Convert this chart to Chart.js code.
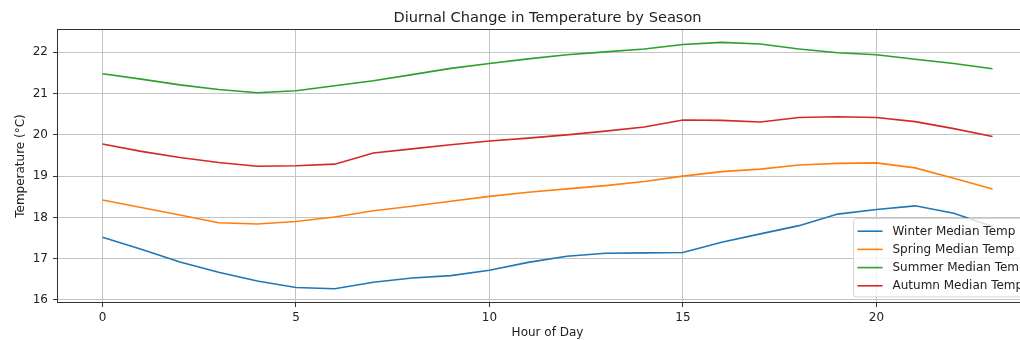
<!DOCTYPE html>
<html>
<head>
<meta charset="utf-8">
<script src="https://cdn.jsdelivr.net/npm/chart.js@4/dist/chart.umd.min.js"></script>
<style>
  html, body { margin: 0; padding: 0; background: #fff; overflow: hidden; width: 1020px; height: 340px; }
  #wrap { position: absolute; left: 0; top: 0; width: 1045px; height: 340px; }
</style>
</head>
<body>
<div id="wrap"><canvas id="c" width="1045" height="340"></canvas></div>
<script>
// Hour of day (0-23)
const hours = [0, 1, 2, 3, 4, 5, 6, 7, 8, 9, 10, 11, 12, 13, 14, 15, 16, 17, 18, 19, 20, 21, 22, 23];

// Median temperature (°C) per hour, by season
const winterTemp = [17.52, 17.23, 16.92, 16.67, 16.46, 16.30, 16.27, 16.43, 16.53, 16.59, 16.72, 16.91,
                    17.06, 17.13, 17.14, 17.15, 17.40, 17.60, 17.80, 18.08, 18.19, 18.28, 18.10, 17.78];
const springTemp = [18.42, 18.24, 18.06, 17.87, 17.84, 17.90, 18.01, 18.16, 18.27, 18.39, 18.51, 18.61,
                    18.69, 18.77, 18.87, 19.00, 19.11, 19.17, 19.27, 19.31, 19.32, 19.20, 18.95, 18.69];
const summerTemp = [21.48, 21.35, 21.21, 21.10, 21.02, 21.07, 21.19, 21.31, 21.46, 21.61, 21.73, 21.84,
                    21.94, 22.01, 22.08, 22.19, 22.24, 22.20, 22.08, 21.99, 21.94, 21.83, 21.73, 21.60];
const autumnTemp = [19.78, 19.60, 19.45, 19.33, 19.24, 19.25, 19.29, 19.56, 19.66, 19.76, 19.85, 19.92,
                    20.00, 20.09, 20.19, 20.36, 20.35, 20.31, 20.42, 20.44, 20.42, 20.32, 20.15, 19.96];

const seriesLabels = ['Winter Median Temp', 'Spring Median Temp', 'Summer Median Temp', 'Autumn Median Temp'];
const seriesValues = [winterTemp, springTemp, summerTemp, autumnTemp];
const seriesColors = ['#1f77b4', '#ff7f0e', '#2ca02c', '#d62728'];

// Axis tick labels
const xTicks = [0, 5, 10, 15, 20];
const yTicks = [16, 17, 18, 19, 20, 21, 22];

const FONT = '"DejaVu Sans", "Liberation Sans", sans-serif';
const TEXT = '#222';

// Axes frame (all four spines) drawn over the data lines
const frame = {
  id: 'frame',
  afterDatasetsDraw(chart) {
    const { ctx, chartArea: a } = chart;
    ctx.save();
    ctx.strokeStyle = '#333';
    ctx.lineWidth = 1;
    ctx.strokeRect(Math.round(a.left) - 0.5, Math.round(a.top) - 0.5,
                   Math.round(a.right - a.left) + 1, Math.round(a.bottom - a.top) + 1);
    ctx.restore();
  }
};

// Legend box placed inside the plot area, lower right
const insetLegend = {
  id: 'insetLegend',
  afterDraw(chart) {
    const { ctx, chartArea: a } = chart;
    const items = chart.data.datasets;
    ctx.save();
    ctx.font = '12px ' + FONT;
    const rowH = 18.2;
    const textW = Math.max(...items.map(d => ctx.measureText(d.label).width));
    const left = Math.round(a.right - 184) + 0.5;
    const top = Math.round(a.top + 188) + 0.5;
    const w = 4 + 25 + 10 + textW + 6;
    const h = 78.4;
    const r = 3;
    ctx.beginPath();
    ctx.moveTo(left + r, top);
    ctx.lineTo(left + w - r, top);
    ctx.quadraticCurveTo(left + w, top, left + w, top + r);
    ctx.lineTo(left + w, top + h - r);
    ctx.quadraticCurveTo(left + w, top + h, left + w - r, top + h);
    ctx.lineTo(left + r, top + h);
    ctx.quadraticCurveTo(left, top + h, left, top + h - r);
    ctx.lineTo(left, top + r);
    ctx.quadraticCurveTo(left, top, left + r, top);
    ctx.closePath();
    ctx.fillStyle = 'rgba(255,255,255,0.8)';
    ctx.fill();
    ctx.strokeStyle = '#d4d4d4';
    ctx.lineWidth = 1;
    ctx.stroke();
    items.forEach((d, i) => {
      const y = top + 12.7 + i * rowH;
      ctx.beginPath();
      ctx.strokeStyle = d.borderColor;
      ctx.lineWidth = 1.6;
      ctx.moveTo(left + 4, y);
      ctx.lineTo(left + 29, y);
      ctx.stroke();
      ctx.fillStyle = TEXT;
      ctx.textBaseline = 'middle';
      ctx.textAlign = 'left';
      ctx.fillText(d.label, left + 39, y + 0.5);
    });
    ctx.restore();
  }
};

const datasets = seriesLabels.map((label, i) => ({
  label,
  data: hours.map((h, j) => ({ x: h, y: seriesValues[i][j] })),
  borderColor: seriesColors[i],
  backgroundColor: seriesColors[i],
  borderWidth: 1.6,
  pointRadius: 0,
  tension: 0,
  fill: false
}));

new Chart(document.getElementById('c'), {
  type: 'line',
  data: { datasets },
  plugins: [frame, insetLegend],
  options: {
    responsive: false,
    animation: false,
    devicePixelRatio: 1,
    layout: { padding: { left: 0, right: 8, top: 0, bottom: 0 } },
    plugins: {
      legend: { display: false },
      tooltip: { enabled: false },
      title: {
        display: true,
        fullSize: false,
        text: 'Diurnal Change in Temperature by Season',
        color: TEXT,
        font: { family: FONT, size: 14.6, weight: 'normal' },
        padding: { top: 9, bottom: 3.5 }
      }
    },
    scales: {
      x: {
        type: 'linear',
        min: -1.15,
        max: 24.15,
        afterBuildTicks: s => { s.ticks = xTicks.map(v => ({ value: v })); },
        afterFit: s => { s.height = 38; },
        border: { display: false },
        grid: { color: '#c4c4c4', lineWidth: 1, tickLength: 5, tickColor: '#333', tickWidth: 1 },
        ticks: { color: TEXT, font: { family: FONT, size: 12 }, padding: 4, maxRotation: 0 },
        title: {
          display: true, text: 'Hour of Day', color: TEXT,
          font: { family: FONT, size: 12 }, padding: { top: 0, bottom: 0 }
        }
      },
      y: {
        type: 'linear',
        min: 15.95,
        max: 22.54,
        afterBuildTicks: s => { s.ticks = yTicks.map(v => ({ value: v })); },
        afterFit: s => { s.width = 58; },
        border: { display: false },
        grid: { color: '#c4c4c4', lineWidth: 1, tickLength: 5, tickColor: '#333', tickWidth: 1 },
        ticks: { color: TEXT, font: { family: FONT, size: 12 }, padding: 5 },
        title: {
          display: true, text: 'Temperature (°C)', color: TEXT,
          font: { family: FONT, size: 12 }, padding: { top: 13.5, bottom: 0 }
        }
      }
    }
  }
});
</script>
</body>
</html>
